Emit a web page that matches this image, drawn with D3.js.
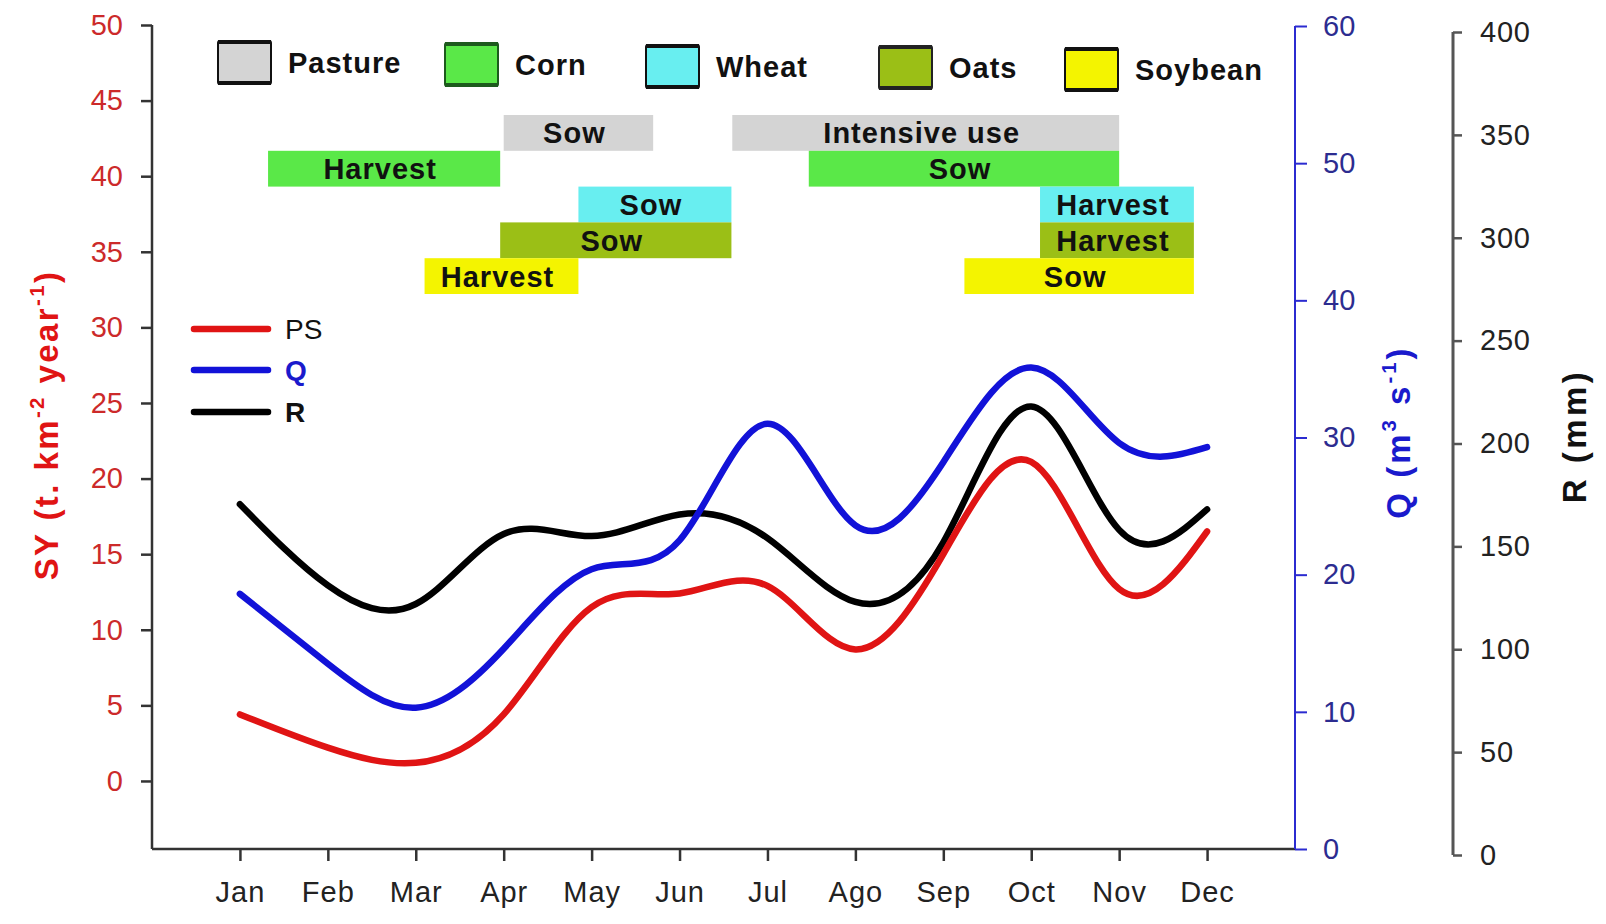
<!DOCTYPE html>
<html>
<head>
<meta charset="utf-8">
<script src="https://cdn.jsdelivr.net/npm/d3@7"></script>
<style>
  html, body { margin: 0; padding: 0; background: #fff; }
  svg { display: block; font-family: "Liberation Sans", Arial, sans-serif; }
</style>
</head>
<body>
<svg id="chart" width="1606" height="924"></svg>
<script>
// ---------------- DATA ----------------
const months = ["Jan","Feb","Mar","Apr","May","Jun","Jul","Ago","Sep","Oct","Nov","Dec"];
const psValues = [4.4, 2.2, 1.2, 4.4, 11.5, 12.4, 12.9, 8.7, 15.0, 21.1, 12.7, 16.5];
const qValues  = [18.6, 13.5, 10.3, 14.6, 20.4, 22.5, 31.0, 23.6, 28.2, 35.1, 29.6, 29.3];
const rValues  = [170.5, 131, 122, 156, 155, 165.5, 154, 123, 152, 218, 158, 168];

const syTicks = [0, 5, 10, 15, 20, 25, 30, 35, 40, 45, 50];
const qTicks  = [0, 10, 20, 30, 40, 50, 60];
const rTicks  = [0, 50, 100, 150, 200, 250, 300, 350, 400];

const cropNames  = ["Pasture", "Corn", "Wheat", "Oats", "Soybean"];
const cropColors = ["#d4d4d4", "#5ae848", "#68eef0", "#9bbf16", "#f4f400"];
const cropBorders = ["#111", "#1d5a1d", "#111", "#222", "#111"];

const activityCrop  = ["Pasture","Pasture","Corn","Corn","Wheat","Wheat","Oats","Oats","Soybean","Soybean"];
const activityLabel = ["Sow","Intensive use","Harvest","Sow","Sow","Harvest","Sow","Harvest","Harvest","Sow"];
const activityStart = [3.0, 5.6, 0.32, 6.47, 3.85, 9.1, 2.96, 9.1, 2.1, 8.24];
const activityEnd   = [4.7, 10.0, 2.96, 10.0, 5.59, 10.85, 5.59, 10.85, 3.85, 10.85];

const seriesNames  = ["PS", "Q", "R"];
const seriesColors = ["#e01414", "#1212d8", "#000000"];

// ---------------- LAYOUT ----------------
const svg = d3.select("#chart");
svg.append("rect").attr("width", 1606).attr("height", 924).attr("fill", "#fff");

const left = 152, right = 1295, bottom = 849;
const x = d3.scaleLinear().domain([-1, 12]).range([left, right]);
const ySY = d3.scaleLinear().domain([-4.5, 50]).range([bottom, 25]);
const yQ  = d3.scaleLinear().domain([0, 60]).range([bottom, 26]);
const yR  = d3.scaleLinear().domain([0, 400]).range([855, 32]);
const rowBand = d3.scaleBand().domain(cropNames).range([115, 294]).padding(0);

const FONT = 29;

// ---------------- AXES ----------------
const gL = svg.append("g").attr("transform", `translate(${left},0)`)
  .call(d3.axisLeft(ySY).tickValues(syTicks).tickSize(11).tickPadding(18));
gL.select(".domain").attr("d", `M0,${ySY(50)}V${bottom}`).attr("stroke", "#333").attr("stroke-width", 2.5);
gL.selectAll(".tick line").attr("stroke", "#333").attr("stroke-width", 2.5);
gL.selectAll(".tick text").attr("font-size", FONT).attr("fill", "#cc2a2a")
  .attr("font-family", "Liberation Sans, Arial, sans-serif");

const gB = svg.append("g").attr("transform", `translate(0,${bottom})`)
  .call(d3.axisBottom(x).tickValues(d3.range(months.length)).tickFormat(i => months[i]).tickSize(12).tickPadding(20));
gB.select(".domain").attr("d", `M${left},0H${right}`).attr("stroke", "#333").attr("stroke-width", 2.5);
gB.selectAll(".tick line").attr("stroke", "#333").attr("stroke-width", 2.5);
gB.selectAll(".tick text").attr("font-size", FONT).attr("fill", "#222").attr("letter-spacing", 1)
  .attr("font-family", "Liberation Sans, Arial, sans-serif");

const gQ = svg.append("g").attr("transform", `translate(${right},0)`)
  .call(d3.axisRight(yQ).tickValues(qTicks).tickSize(12).tickPadding(16));
gQ.select(".domain").attr("d", `M0,${yQ(60)}V${bottom}`).attr("stroke", "#2b2bd0").attr("stroke-width", 2);
gQ.selectAll(".tick line").attr("stroke", "#2b2bd0").attr("stroke-width", 2);
gQ.selectAll(".tick text").attr("font-size", FONT).attr("fill", "#2c2c90")
  .attr("font-family", "Liberation Sans, Arial, sans-serif");

const rX = 1453;
const gR = svg.append("g").attr("transform", `translate(${rX},0)`)
  .call(d3.axisRight(yR).tickValues(rTicks).tickSize(9).tickPadding(18));
gR.select(".domain").attr("d", `M0,${yR(400)}V${yR(0)}`).attr("stroke", "#555").attr("stroke-width", 3);
gR.selectAll(".tick line").attr("stroke", "#555").attr("stroke-width", 2.5);
gR.selectAll(".tick text").attr("font-size", FONT).attr("fill", "#222").attr("letter-spacing", 0.8)
  .attr("font-family", "Liberation Sans, Arial, sans-serif");

// ---------------- AXIS TITLES ----------------
function titleWithSup(cx, cy, parts, color, size, spacing) {
  const t = svg.append("text")
    .attr("transform", `translate(${cx},${cy}) rotate(-90)`)
    .attr("text-anchor", "middle")
    .attr("font-weight", "bold")
    .attr("font-size", size)
    .attr("letter-spacing", spacing)
    .attr("fill", color);
  let up = false;
  parts.forEach(p => {
    const sp = t.append("tspan").text(p.t);
    if (p.sup) {
      sp.attr("font-size", size * 0.62).attr("dy", -size * 0.42);
      up = true;
    } else if (up) {
      sp.attr("dy", size * 0.42);
      up = false;
    }
  });
  t.attr("dy", "0.35em");
  return t;
}
titleWithSup(46, 425, [{t:"SY (t. km"},{t:"-2",sup:true},{t:" year"},{t:"-1",sup:true},{t:")"}], "#e01414", 33, 2.4);
titleWithSup(1398, 432, [{t:"Q (m"},{t:"3",sup:true},{t:" s"},{t:"-1",sup:true},{t:")"}], "#1a1acc", 33, 3);
titleWithSup(1574, 436, [{t:"R (mm)"}], "#111", 33, 3.5);

// ---------------- ACTIVITY BARS ----------------
const acts = activityLabel.map((lab, i) => ({
  crop: activityCrop[i], label: lab, s: activityStart[i], e: activityEnd[i]
}));
const gA = svg.append("g");
gA.selectAll("rect").data(acts).join("rect")
  .attr("x", d => x(d.s))
  .attr("y", d => rowBand(d.crop))
  .attr("width", d => x(d.e) - x(d.s))
  .attr("height", rowBand.bandwidth())
  .attr("fill", d => cropColors[cropNames.indexOf(d.crop)]);
gA.selectAll("text").data(acts).join("text")
  .attr("x", d => (x(d.s) + x(d.e)) / 2 - 4)
  .attr("y", d => rowBand(d.crop) + rowBand.bandwidth() / 2)
  .attr("dy", "0.36em")
  .attr("text-anchor", "middle")
  .attr("font-weight", "bold")
  .attr("font-size", FONT)
  .attr("letter-spacing", 1)
  .attr("fill", "#111")
  .text(d => d.label);

// ---------------- CROP LEGEND ----------------
const legendX = [218, 445, 646, 879, 1065];
const legendY = [41, 43, 45, 46, 48];
const gCL = svg.append("g");
cropNames.forEach((name, i) => {
  const g = gCL.append("g").attr("transform", `translate(${legendX[i]},${legendY[i]})`);
  g.append("rect").attr("x", 0).attr("y", 0).attr("width", 53).attr("height", 43)
    .attr("rx", 2).attr("fill", cropColors[i]).attr("stroke", cropBorders[i]).attr("stroke-width", 2);
  g.append("line").attr("x1", 0).attr("x2", 53).attr("y1", 1).attr("y2", 1)
    .attr("stroke", cropBorders[i]).attr("stroke-width", 4);
  g.append("line").attr("x1", 0).attr("x2", 53).attr("y1", 42).attr("y2", 42)
    .attr("stroke", cropBorders[i]).attr("stroke-width", 4);
  g.append("text").attr("x", 70).attr("y", 22).attr("dy", "0.36em")
    .attr("font-weight", "bold").attr("font-size", FONT).attr("letter-spacing", 1)
    .attr("fill", "#111").text(name);
});

// ---------------- LINES ----------------
const yScales = [ySY, yQ, yR];
const seriesVals = [psValues, qValues, rValues];
const gLines = svg.append("g");
[2, 1, 0].forEach(k => {
  const line = d3.line()
    .x((d, i) => x(i))
    .y(d => yScales[k](d))
    .curve(d3.curveNatural);
  gLines.append("path")
    .datum(seriesVals[k])
    .attr("d", line)
    .attr("fill", "none")
    .attr("stroke", seriesColors[k])
    .attr("stroke-width", 6.5)
    .attr("stroke-linecap", "round")
    .attr("stroke-linejoin", "round");
});

// ---------------- SERIES LEGEND ----------------
const sLegY = [329, 370, 412];
const gSL = svg.append("g");
seriesNames.forEach((name, i) => {
  gSL.append("line").attr("x1", 194).attr("x2", 268).attr("y1", sLegY[i]).attr("y2", sLegY[i])
    .attr("stroke", seriesColors[i]).attr("stroke-width", 6.5).attr("stroke-linecap", "round");
  gSL.append("text").attr("x", 285).attr("y", sLegY[i]).attr("dy", "0.36em")
    .attr("font-size", 28)
    .attr("font-weight", i === 0 ? "normal" : "bold")
    .attr("fill", i === 1 ? "#1a1acc" : "#111")
    .text(name);
});
</script>
</body>
</html>
